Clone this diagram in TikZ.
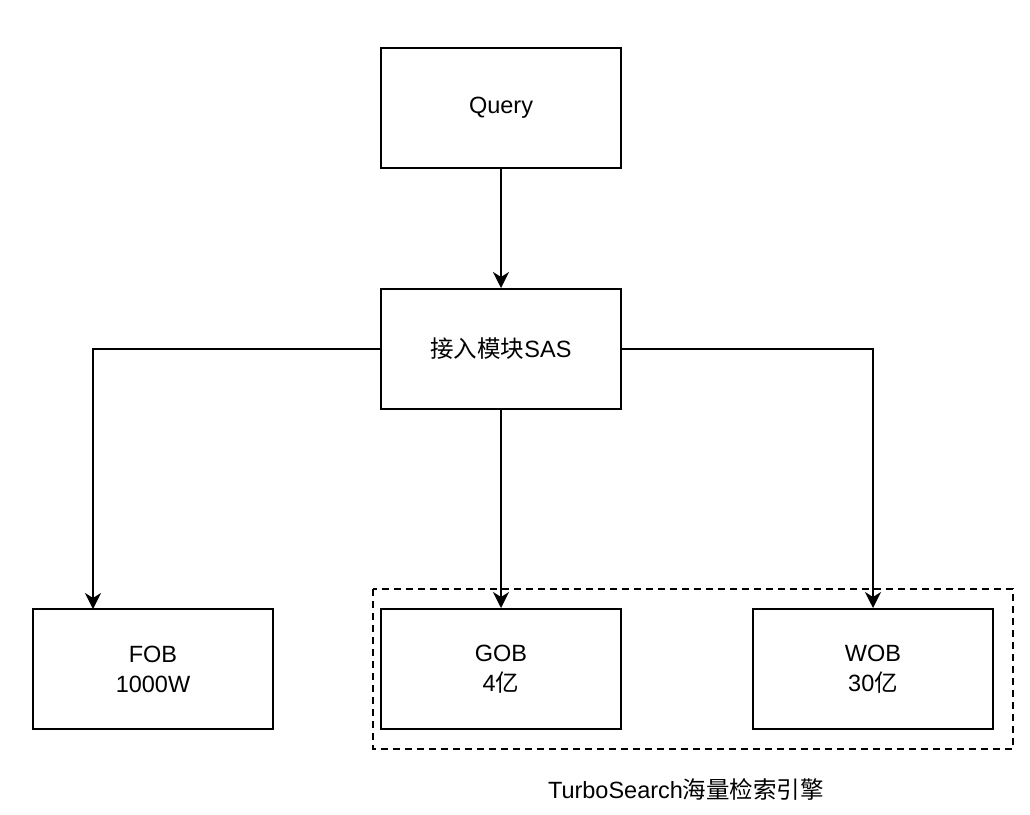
\documentclass[tikz,border=0pt]{standalone}
\usepackage{fontspec}
\setmainfont{Liberation Sans}
\newfontfamily\cjk{Noto Sans CJK SC}
\usetikzlibrary{arrows.meta}
\begin{document}
\begin{tikzpicture}[x=1pt,y=-1pt,
  box/.style={draw, line width=2pt, minimum width=240pt, minimum height=120pt, align=center, font=\fontsize{23.5}{30}\selectfont, inner sep=0pt},
  arr/.style={line width=2pt, -{Stealth[length=16pt,width=16pt,inset=5pt]}},
  grp/.style={draw, line width=2pt, dash pattern=on 7pt off 5pt}]
\useasboundingbox (0,0) rectangle (1030,814);
\node[box] (query) at (501,108) {Query};
\node[box] (sas) at (501,349) {{\cjk 接入模块}SAS};
\node[box] (fob) at (153,669) {FOB\\1000W};
\node[box] (gob) at (501,669) {GOB\\4{\cjk 亿}};
\node[box] (wob) at (873,669) {WOB\\30{\cjk 亿}};
\coordinate (fobin) at (93,609);
\draw[grp] (373,589) rectangle (1013,749);
\node[font=\fontsize{23.5}{28}\selectfont] (lbl) at (686,789) {TurboSearch{\cjk 海量检索引擎}};
\draw[arr] (query) -- (sas);
\draw[arr] (sas.west) -| (fobin);
\draw[arr] (sas) -- (gob);
\draw[arr] (sas.east) -| (wob.north);
\end{tikzpicture}
\end{document}
